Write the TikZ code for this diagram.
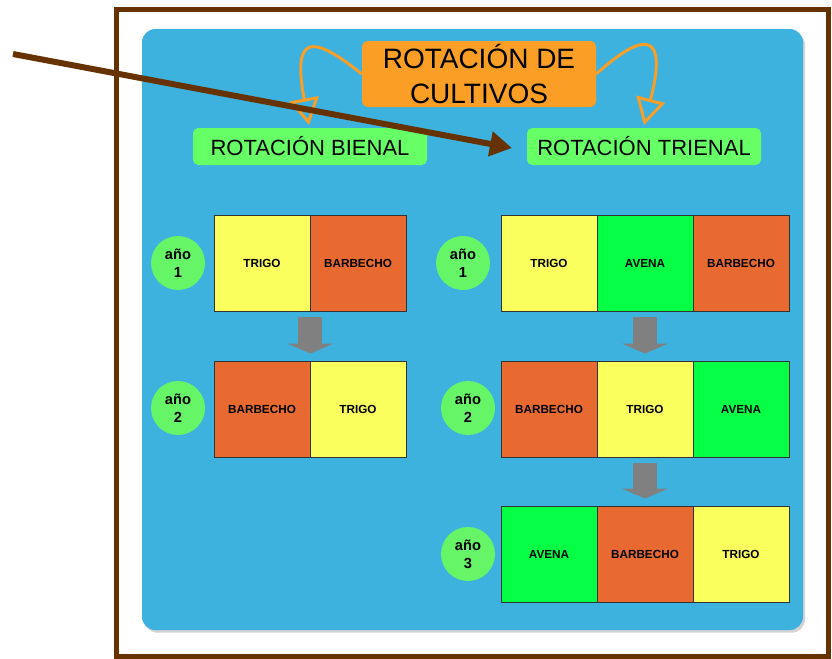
\documentclass[tikz,border=0pt]{standalone}
\usepackage{fontspec}
\setmainfont{Liberation Sans}
\usetikzlibrary{arrows.meta,shadows}

\definecolor{panelblue}{RGB}{62,178,222}
\definecolor{titleorange}{RGB}{250,158,38}
\definecolor{labelgreen}{RGB}{102,255,102}
\definecolor{trigoyellow}{RGB}{250,255,94}
\definecolor{barbechoorange}{RGB}{232,106,48}
\definecolor{avenagreen}{RGB}{5,255,69}
\definecolor{yeargreen}{RGB}{102,245,102}
\definecolor{framebrown}{RGB}{102,51,0}

\begin{document}
\begin{tikzpicture}[x=0.75pt, y=-0.75pt,
  cell/.style={draw=black!80, line width=0.7pt, minimum width=72pt, minimum height=72pt, inner sep=0pt, font=\bfseries\fontsize{8.8}{10}\selectfont},
  trigo/.style={cell, fill=trigoyellow},
  barbecho/.style={cell, fill=barbechoorange},
  avena/.style={cell, fill=avenagreen},
  anyo/.style={circle, fill=yeargreen, minimum size=40.5pt, inner sep=0pt, align=center, font=\bfseries\fontsize{11}{13.5}\selectfont},
  tipo/.style={fill=labelgreen, rounded corners=4pt, minimum width=175.5pt, minimum height=27.75pt, inner sep=0pt, font=\fontsize{16.5}{20}\selectfont},
  paso/.style={draw=gray, line width=18pt, -{Triangle[length=7.5pt,width=34.5pt]}, shorten <=4.5pt, shorten >=5.25pt},
  curva/.style={draw=titleorange, line width=2.2pt, -{Triangle[open, length=20pt, width=22pt]}},
  flecha/.style={draw=framebrown, line width=4.5pt, -{Triangle[length=16.5pt, width=18pt]}}
]
\useasboundingbox (0,0) rectangle (832,658);

% panel
\fill[panelblue, rounded corners=10pt, drop shadow={opacity=0.35, shadow xshift=1.5pt, shadow yshift=-2pt}] (142,29) rectangle (803,630);

% titles
\node[fill=titleorange, rounded corners=4pt, minimum width=175.5pt, minimum height=49.5pt, inner sep=0pt, align=center, font=\fontsize{21}{26.25}\selectfont] (titulo) at (479,74) {ROTACIÓN DE\\CULTIVOS};
\node[tipo] (bienal) at (310,146.5) {ROTACIÓN BIENAL};
\node[tipo] (trienal) at (644,146.5) {ROTACIÓN TRIENAL};

\draw[curva] (titulo.west) .. controls (312,34) and (292,34) .. (309,125);
\draw[curva] (titulo.east) .. controls (645,30) and (668,32) .. (644,125);

% rotacion bienal
\node[trigo] (b1a) at (262,263) {TRIGO};
\node[barbecho] (b1b) at (358,263) {BARBECHO};
\node[barbecho] (b2a) at (262,409) {BARBECHO};
\node[trigo] (b2b) at (358,409) {TRIGO};
\node[anyo] (ba1) at (178,263) {año\\1};
\node[anyo] (ba2) at (178,408) {año\\2};
\draw[paso] (b1a.south east) -- (b2a.north east);

% rotacion trienal
\node[trigo] (t1a) at (549,263) {TRIGO};
\node[avena] (t1b) at (645,263) {AVENA};
\node[barbecho] (t1c) at (741,263) {BARBECHO};
\node[barbecho] (t2a) at (549,409) {BARBECHO};
\node[trigo] (t2b) at (645,409) {TRIGO};
\node[avena] (t2c) at (741,409) {AVENA};
\node[avena] (t3a) at (549,554) {AVENA};
\node[barbecho] (t3b) at (645,554) {BARBECHO};
\node[trigo] (t3c) at (741,554) {TRIGO};
\node[anyo] (ta1) at (463,263) {año\\1};
\node[anyo] (ta2) at (468,408) {año\\2};
\node[anyo] (ta3) at (468,554) {año\\3};
\draw[paso] (t1b.south) -- (t2b.north);
\draw[paso] (t2b.south) -- (t3b.north);

% marco
\draw[framebrown, line width=3.75pt] (116.5,9) rectangle (828.5,656);
\coordinate (inicio) at (13,54);
\coordinate (punta) at (512,148);
\draw[flecha] (inicio) -- (punta);
\end{tikzpicture}
\end{document}
